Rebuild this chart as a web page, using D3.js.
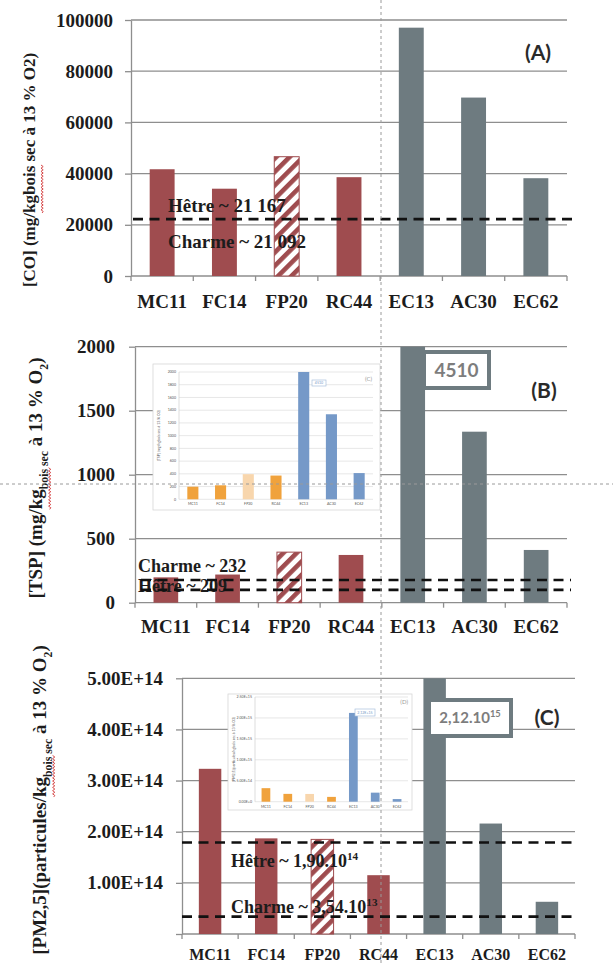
<!DOCTYPE html>
<html>
<head>
<meta charset="utf-8">
<script src="https://cdn.jsdelivr.net/npm/d3@7"></script>
<style>
html,body{margin:0;padding:0;background:#fff;}
svg{display:block;}
</style>
</head>
<body>
<svg id="chart" width="613" height="963"></svg>
<script>
// ---------------- data ----------------
const categories = ["MC11", "FC14", "FP20", "RC44", "EC13", "AC30", "EC62"];
const woodCategories = ["MC11", "FC14", "FP20", "RC44"];
const hatchedCategories = ["FP20"];

const coValues   = [41700, 34100, 46600, 38600, 97000, 69700, 38200];
const tspValues  = [198, 220, 395, 373, 4510, 1336, 412];
const pm25Values = [3.23e14, 1.87e14, 1.85e14, 1.15e14, 2.12e15, 2.16e14, 0.63e14];

const coTicks   = [0, 20000, 40000, 60000, 80000, 100000];
const tspTicks  = [0, 500, 1000, 1500, 2000];
const pm25Ticks = [0, 1e14, 2e14, 3e14, 4e14, 5e14];
const tspInsetTicks  = [0, 200, 400, 600, 800, 1000, 1200, 1400, 1600, 1800, 2000];
const pm25InsetTicks = [0, 5e14, 1e15, 1.5e15, 2e15, 2.5e15];

const coRefLines   = [22200];
const tspRefLines  = [177, 100];
const pm25RefLines = [1.79e14, 0.34e14];

const coRefLabels   = [["Hêtre ~ 21 167", ""], ["Charme ~ 21 092", ""]];
const tspRefLabels  = [["Charme ~ 232", ""], ["Hêtre ~ 209", ""]];
const pm25RefLabels = [["Hêtre ~ 1,90.10", "14"], ["Charme ~ 3,54.10", "13"]];

const coTitle   = [["[CO] (mg/kgbois sec à 13 % O2)", false]];
const tspTitle  = [["[TSP] (mg/kg", false], ["bois sec", true], [" à 13 % O", false], ["2", true], [")", false]];
const pm25Title = [["[PM2,5](particules/kg", false], ["bois sec", true], [" à 13 % O", false], ["2", true], [")", false]];
const tspInsetTitle  = "[TSP] (mg/kgbois sec à 13 % O2)";
const pm25InsetTitle = "[PM2,5](particules/kgbois sec à 13 % O2)";

// ---------------- style ----------------
const SERIF = "'Liberation Serif','Times New Roman',serif";
const SANS = "Lato,'Liberation Sans',sans-serif";
const INK = "#1c1c1c";
const RED = "#9f4c4f";
const GREY = "#6e7b80";
const GRID = "#8e8e8e";

const svg = d3.select("#chart");
const defs = svg.append("defs");
const pat = defs.append("pattern").attr("id", "hatch")
  .attr("patternUnits", "userSpaceOnUse").attr("width", 9.5).attr("height", 9.5)
  .attr("patternTransform", "rotate(45)");
pat.append("rect").attr("width", 9.5).attr("height", 9.5).attr("fill", "#fff");
pat.append("rect").attr("width", 4.6).attr("height", 9.5).attr("fill", RED);

function wavy(g, xa, xb, y) {
  let d = `M${xa},${y}`;
  let i = 0;
  for (let x = xa; x < xb; x += 1.6, i++) d += ` L${x + 1.6},${y + (i % 2 ? -1.1 : 1.1)}`;
  g.append("path").attr("d", d).attr("fill", "none").attr("stroke", "#d23a3a").attr("stroke-width", 0.9);
}

function drawTitle(parts, bx, cy, size) {
  const g = svg.append("g").attr("transform", `translate(${bx},${cy}) rotate(-90)`);
  const t = g.append("text").attr("text-anchor", "middle").attr("font-family", SERIF)
    .attr("font-weight", "bold").attr("font-size", size).attr("fill", INK);
  let sub = false;
  const shift = size * 0.3;
  parts.forEach(([txt, isSub]) => {
    const ts = t.append("tspan").text(txt);
    if (isSub && !sub) ts.attr("dy", shift);
    if (!isSub && sub) ts.attr("dy", -shift);
    if (isSub) ts.attr("font-size", size * 0.62);
    sub = isSub;
  });
  const full = t.text();
  const k = full.indexOf("kg");
  const b = full.indexOf("bois");
  const node = t.node();
  const xa = node.getStartPositionOfChar(k).x;
  const xb = node.getEndPositionOfChar(b + 3).x;
  wavy(g, xa, xb, size * 0.3 + 2);
}

function drawPanel(c) {
  const g = svg.append("g");
  const x = d3.scaleBand().domain(categories).range([c.x0, c.x1]).paddingInner(0.6).paddingOuter(0.3);
  const y = d3.scaleLinear().domain([0, c.yMax]).range([c.yBottom, c.yTop]).clamp(true);

  // gridlines
  g.selectAll(".grid").data(c.ticks).join("line")
    .attr("x1", c.x0).attr("x2", c.x1).attr("y1", d => y(d)).attr("y2", d => y(d))
    .attr("stroke", GRID).attr("stroke-width", 1.3);

  // y axis
  const ya = g.append("g").attr("transform", `translate(${c.x0},0)`)
    .call(d3.axisLeft(y).tickValues(c.ticks).tickSize(6).tickSizeOuter(0).tickPadding(c.tickPad).tickFormat(c.fmt));
  ya.select(".domain").attr("stroke", GRID).attr("stroke-width", 1.3);
  ya.selectAll(".tick line").attr("stroke", GRID).attr("stroke-width", 1.3);
  ya.selectAll(".tick text").attr("font-family", SERIF).attr("font-weight", "bold")
    .attr("font-size", c.tickSize).attr("fill", INK);

  // x axis boundary ticks
  const step = x.step();
  const bounds = categories.map(d => x(d) - x.paddingInner() * step / 2).concat([x(categories[categories.length - 1]) + x.bandwidth() + x.paddingInner() * step / 2]);
  g.selectAll(".xt").data(bounds).join("line")
    .attr("x1", d => d).attr("x2", d => d).attr("y1", c.yBottom).attr("y2", c.yBottom + 5)
    .attr("stroke", GRID).attr("stroke-width", 1.3);
  g.selectAll(".xl").data(categories).join("text")
    .attr("x", d => x(d) + x.bandwidth() / 2).attr("y", c.catY)
    .attr("text-anchor", "middle").attr("font-family", SERIF).attr("font-weight", "bold")
    .attr("font-size", c.catSize).attr("fill", INK).text(d => d);

  if (c.inset) drawInset(c.inset);

  // bars
  const rows = categories.map((d, i) => ({ cat: d, v: c.values[i] }));
  g.selectAll(".bar").data(rows).join("rect")
    .attr("x", d => x(d.cat)).attr("width", x.bandwidth())
    .attr("y", d => y(d.v)).attr("height", d => y(0) - y(d.v))
    .attr("fill", d => hatchedCategories.includes(d.cat) ? "url(#hatch)" : (woodCategories.includes(d.cat) ? RED : GREY))
    .attr("stroke", d => hatchedCategories.includes(d.cat) ? RED : "none")
    .attr("stroke-width", 1);

  // reference labels
  c.refLabels.forEach((lab, i) => {
    const t = g.append("text").attr("x", c.refLabelX).attr("y", c.refLabelY[i])
      .attr("font-family", SERIF).attr("font-weight", "bold").attr("font-size", c.refSize).attr("fill", INK);
    t.append("tspan").text(lab[0]);
    if (lab[1]) t.append("tspan").attr("font-size", c.refSize * 0.62).attr("dy", -c.refSize * 0.38).text(lab[1]);
  });

  // reference dashed lines
  g.selectAll(".ref").data(c.refLines).join("line")
    .attr("x1", c.refX0).attr("x2", c.refX1).attr("y1", d => y(d)).attr("y2", d => y(d))
    .attr("stroke", "#111").attr("stroke-width", 2.6).attr("stroke-dasharray", "10,6.5");

  // value box for clipped bar
  if (c.box) {
    const bw = 4;
    g.append("rect").attr("x", c.box.x0 + bw / 2).attr("y", c.box.y0 + bw / 2)
      .attr("width", c.box.x1 - c.box.x0 - bw).attr("height", c.box.y1 - c.box.y0 - bw)
      .attr("fill", "#fff").attr("stroke", GREY).attr("stroke-width", bw);
    const t = g.append("text").attr("x", (c.box.x0 + c.box.x1) / 2).attr("y", c.box.ty)
      .attr("text-anchor", "middle").attr("font-family", SANS).attr("font-weight", "bold")
      .attr("font-size", c.box.size).attr("fill", "#7d7d7d");
    t.append("tspan").text(c.box.text);
    if (c.box.sup) t.append("tspan").attr("font-size", c.box.size * 0.62).attr("dy", -c.box.size * 0.38).text(c.box.sup);
  }

  // panel letter
  g.append("text").attr("x", c.letterX).attr("y", c.letterY).attr("text-anchor", "middle")
    .attr("font-family", SANS).attr("font-weight", "bold").attr("font-size", 21).attr("fill", "#2a2a2a")
    .text(c.letter);

  drawTitle(c.title, c.titleX, c.titleY, c.titleSize);
}

function drawInset(c) {
  const g = svg.append("g");
  g.append("rect").attr("x", c.bx0).attr("y", c.by0).attr("width", c.bx1 - c.bx0).attr("height", c.by1 - c.by0)
    .attr("fill", "#fff").attr("stroke", "#d6d6d6").attr("stroke-width", 0.8);
  const x = d3.scaleBand().domain(categories).range([c.px0, c.px1]).paddingInner(0.6).paddingOuter(0.3);
  const y = d3.scaleLinear().domain([0, c.yMax]).range([c.py0, c.py1]).clamp(true);
  g.selectAll(".ig").data(c.ticks).join("line")
    .attr("x1", c.px0).attr("x2", c.px1).attr("y1", d => y(d)).attr("y2", d => y(d))
    .attr("stroke", "#dcdcdc").attr("stroke-width", 0.7);
  g.append("line").attr("x1", c.px0).attr("x2", c.px0).attr("y1", c.py0).attr("y2", c.py1)
    .attr("stroke", "#cfcfcf").attr("stroke-width", 0.7);
  g.selectAll(".it").data(c.ticks).join("text")
    .attr("x", c.px0 - 3).attr("y", d => y(d) + 1.2).attr("text-anchor", "end")
    .attr("font-family", SANS).attr("font-size", 3.6).attr("fill", "#555").text(c.fmt);
  const rows = categories.map((d, i) => ({ cat: d, v: c.values[i] }));
  g.selectAll(".ib").data(rows).join("rect")
    .attr("x", d => x(d.cat)).attr("width", x.bandwidth())
    .attr("y", d => y(d.v)).attr("height", d => y(0) - y(d.v))
    .attr("fill", d => hatchedCategories.includes(d.cat) ? "#f8d6ad" : (woodCategories.includes(d.cat) ? "#f0a23c" : "#7599c8"));
  g.selectAll(".ic").data(categories).join("text")
    .attr("x", d => x(d) + x.bandwidth() / 2).attr("y", c.py0 + 6).attr("text-anchor", "middle")
    .attr("font-family", SANS).attr("font-size", 3.6).attr("fill", "#555").text(d => d);
  g.append("text").attr("transform", `translate(${c.bx0 + 7},${(c.py0 + c.py1) / 2}) rotate(-90)`)
    .attr("text-anchor", "middle").attr("font-family", SANS).attr("font-size", 3.6).attr("fill", "#555")
    .text(c.title);
  g.append("text").attr("x", c.letterX).attr("y", c.letterY).attr("text-anchor", "end")
    .attr("font-family", SANS).attr("font-size", 6).attr("fill", "#999").text(c.letter);
  g.append("rect").attr("x", c.mb[0]).attr("y", c.mb[1]).attr("width", c.mb[2]).attr("height", c.mb[3])
    .attr("fill", "#fff").attr("stroke", "#a9c0dc").attr("stroke-width", 0.7);
  g.append("text").attr("x", c.mb[0] + c.mb[2] / 2).attr("y", c.mb[1] + c.mb[3] / 2 + 1.2)
    .attr("text-anchor", "middle").attr("font-family", SANS).attr("font-size", 3.6).attr("fill", "#7599c8")
    .text(c.mbText);
}

// ---------------- panels ----------------
drawPanel({
  values: coValues, ticks: coTicks, fmt: d3.format("d"), yMax: 100000,
  x0: 131, x1: 567, yTop: 20, yBottom: 276, tickPad: 12, tickSize: 19,
  catY: 308, catSize: 19,
  refLines: coRefLines, refX0: 133, refX1: 578,
  refLabels: coRefLabels, refLabelX: 168, refLabelY: [212, 248], refSize: 19,
  letter: "(A)", letterX: 538, letterY: 60,
  title: coTitle, titleX: 35, titleY: 170, titleSize: 17
});

drawPanel({
  values: tspValues, ticks: tspTicks, fmt: d3.format("d"), yMax: 2000,
  x0: 135, x1: 567, yTop: 346.7, yBottom: 602.7, tickPad: 14, tickSize: 19,
  catY: 633, catSize: 19,
  refLines: tspRefLines, refX0: 141, refX1: 571,
  refLabels: tspRefLabels, refLabelX: 138, refLabelY: [572, 592], refSize: 18,
  letter: "(B)", letterX: 544, letterY: 398,
  box: { x0: 422, y0: 350, x1: 491, y1: 390, ty: 377, text: "4510", size: 19 },
  title: tspTitle, titleX: 42, titleY: 478, titleSize: 19,
  inset: {
    values: tspValues, ticks: tspInsetTicks, fmt: d3.format("d"), yMax: 2000,
    bx0: 153, by0: 364, bx1: 380, by1: 510,
    px0: 179, px1: 373, py0: 499.3, py1: 372,
    title: tspInsetTitle, letter: "(C)", letterX: 372, letterY: 381,
    mb: [312, 380, 14, 6], mbText: "4510"
  }
});

drawPanel({
  values: pm25Values, ticks: pm25Ticks, fmt: d => d === 0 ? "" : d.toExponential(2).toUpperCase(), yMax: 5e14,
  x0: 182, x1: 575, yTop: 678.3, yBottom: 934, tickPad: 13, tickSize: 19,
  catY: 960, catSize: 16,
  refLines: pm25RefLines, refX0: 182, refX1: 578,
  refLabels: pm25RefLabels, refLabelX: 231, refLabelY: [867, 913], refSize: 18,
  letter: "(C)", letterX: 547, letterY: 725,
  box: { x0: 427, y0: 698, x1: 513, y1: 738, ty: 723, text: "2,12.10", sup: "15", size: 15 },
  title: pm25Title, titleX: 46, titleY: 800, titleSize: 19,
  inset: {
    values: pm25Values, ticks: pm25InsetTicks, fmt: d => d.toExponential(2).toUpperCase(), yMax: 2.5e15,
    bx0: 228, by0: 694, bx1: 412, by1: 810,
    px0: 255, px1: 408, py0: 801.7, py1: 697,
    title: pm25InsetTitle, letter: "(D)", letterX: 408, letterY: 704,
    mb: [355, 709, 20, 7], mbText: "2,12E+15"
  }
});

// global guide lines
svg.append("line").attr("x1", 381).attr("x2", 381).attr("y1", 0).attr("y2", 963)
  .attr("stroke", "#9a9a9a").attr("stroke-width", 1).attr("stroke-dasharray", "3,3");
svg.append("line").attr("x1", 0).attr("x2", 613).attr("y1", 484).attr("y2", 484)
  .attr("stroke", "#9a9a9a").attr("stroke-width", 1).attr("stroke-dasharray", "3,3");
</script>
</body>
</html>
